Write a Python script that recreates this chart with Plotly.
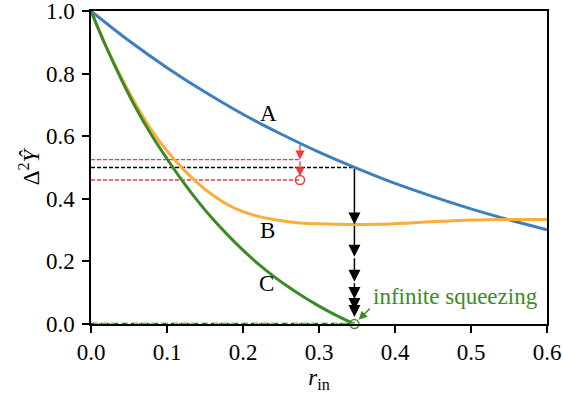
import plotly.graph_objects as go

# ---- data ----
r_A = [0.0, 0.05, 0.10, 0.15, 0.20, 0.25, 0.30, 0.35, 0.40, 0.45, 0.50, 0.55, 0.60]
y_A = [1.0, 0.905, 0.819, 0.741, 0.670, 0.607, 0.549, 0.497, 0.449, 0.407, 0.368, 0.333, 0.301]

r_B = [0.0, 0.02, 0.04, 0.06, 0.08, 0.10, 0.12, 0.14, 0.16, 0.18, 0.20, 0.22, 0.24,
       0.26, 0.28, 0.30, 0.34, 0.38, 0.42, 0.46, 0.50, 0.55, 0.60]
y_B = [1.0, 0.887, 0.787, 0.697, 0.618, 0.553, 0.498, 0.451, 0.412, 0.381, 0.359, 0.344, 0.334,
       0.327, 0.322, 0.320, 0.318, 0.319, 0.323, 0.328, 0.332, 0.334, 0.334]

r_C = [0.0, 0.02, 0.04, 0.06, 0.08, 0.10, 0.12, 0.14, 0.16, 0.18, 0.20, 0.22, 0.24,
       0.26, 0.28, 0.30, 0.32, 0.3466]
y_C = [1.0, 0.885, 0.781, 0.686, 0.602, 0.528, 0.458, 0.394, 0.336, 0.284, 0.236, 0.192, 0.153,
       0.118, 0.086, 0.057, 0.031, 0.0]

r_star = 0.3466          # where curve A reaches 0.5 / C reaches 0
level_black = 0.5
red_levels = [0.525, 0.460]
r_red = 0.275
red_arrow_y = [0.577, 0.525, 0.472]
black_arrow_y = [0.5, 0.318, 0.215, 0.135, 0.080, 0.045, 0.022, 0.008]

labels = ["A", "B", "C"]
label_r = [0.234, 0.232, 0.231]
label_y = [0.673, 0.300, 0.130]

x_ticks = [0, 0.1, 0.2, 0.3, 0.4, 0.5, 0.6]
x_ticktext = ["0.0", "0.1", "0.2", "0.3", "0.4", "0.5", "0.6"]
y_ticks = [0, 0.2, 0.4, 0.6, 0.8, 1.0]
y_ticktext = ["0.0", "0.2", "0.4", "0.6", "0.8", "1.0"]

c_blue = "#3d7fbf"
c_orange = "#fcac3a"
c_green = "#3a8b25"
c_red = "#ef3b3b"
FONT = "Liberation Serif, Times New Roman, serif"
FS = 23

fig = go.Figure()

# horizontal dashed guide lines
for lv in red_levels:
    fig.add_trace(go.Scatter(x=[0, r_red], y=[lv, lv], mode="lines",
                             line=dict(color=c_red, width=1.3, dash="4px,2px"),
                             showlegend=False, hoverinfo="skip"))
fig.add_trace(go.Scatter(x=[0, r_star], y=[level_black, level_black], mode="lines",
                         line=dict(color="black", width=1.3, dash="4px,2px"),
                         showlegend=False, hoverinfo="skip"))

# curves
fig.add_trace(go.Scatter(x=r_A, y=y_A, mode="lines", line=dict(color=c_blue, width=3, shape="spline"),
                         showlegend=False))
fig.add_trace(go.Scatter(x=r_B, y=y_B, mode="lines", line=dict(color=c_orange, width=3, shape="spline"),
                         showlegend=False))
fig.add_trace(go.Scatter(x=r_C, y=y_C, mode="lines", line=dict(color=c_green, width=3, shape="spline"),
                         showlegend=False))

# zero line (green dashed + black dashed)
fig.add_trace(go.Scatter(x=[0, r_star], y=[0, 0], mode="lines",
                         line=dict(color="#7fbf6a", width=3, dash="7px,3px"),
                         showlegend=False, hoverinfo="skip"))
fig.add_trace(go.Scatter(x=[0, r_star], y=[0, 0], mode="lines",
                         line=dict(color="black", width=1.2, dash="3px,5px"),
                         showlegend=False, hoverinfo="skip"))

# circles
fig.add_trace(go.Scatter(x=[r_red], y=[red_levels[1]], mode="markers",
                         marker=dict(symbol="circle-open", size=9, color=c_red, line=dict(width=1.5)),
                         cliponaxis=False, showlegend=False))
fig.add_trace(go.Scatter(x=[r_star], y=[0], mode="markers",
                         marker=dict(symbol="circle-open", size=9, color=c_green, line=dict(width=1.5)),
                         cliponaxis=False, showlegend=False))

annotations = []
# black vertical arrow chain
for y0, y1 in zip(black_arrow_y[:-1], black_arrow_y[1:]):
    annotations.append(dict(x=r_star, y=y1, ax=r_star, ay=y0, xref="x", yref="y",
                            axref="x", ayref="y", text="", showarrow=True,
                            arrowhead=2, arrowsize=1.6, arrowwidth=1.5, arrowcolor="black",
                            standoff=0, startstandoff=0))
# red arrow chain
for y0, y1 in zip(red_arrow_y[:-1], red_arrow_y[1:]):
    annotations.append(dict(x=r_red, y=y1, ax=r_red, ay=y0, xref="x", yref="y",
                            axref="x", ayref="y", text="", showarrow=True,
                            arrowhead=2, arrowsize=1.4, arrowwidth=1.3, arrowcolor=c_red,
                            standoff=0, startstandoff=0))
# curve labels
for t, xr, yr in zip(labels, label_r, label_y):
    annotations.append(dict(x=xr, y=yr, xref="x", yref="y", text=t, showarrow=False,
                            font=dict(family=FONT, size=FS, color="black")))
# infinite squeezing
annotations.append(dict(x=0.369, y=0.088, xref="x", yref="y", text="infinite squeezing",
                        xanchor="left", yanchor="middle", showarrow=False,
                        font=dict(family=FONT, size=FS, color=c_green)))
annotations.append(dict(x=r_star, y=0, xref="x", yref="y", ax=17, ay=-17, text="",
                        showarrow=True, arrowhead=2, arrowsize=1.3, arrowwidth=1.3,
                        arrowcolor=c_green, standoff=6))

axis_common = dict(showgrid=False, zeroline=False, showline=True, mirror=True, automargin=False,
                   linecolor="black", linewidth=1.5, ticks="outside", ticklen=7, tickwidth=1.5,
                   tickcolor="black", tickfont=dict(family=FONT, size=FS),
                   ticklabeloverflow="allow")

fig.update_layout(
    width=563, height=393,
    margin=dict(l=91, r=16, t=11, b=69, autoexpand=False),
    plot_bgcolor="white", paper_bgcolor="white",
    font=dict(family=FONT, size=FS, color="black"),
    annotations=annotations,
    xaxis=dict(range=[0, 0.6], tickvals=x_ticks, ticktext=x_ticktext,
               ticklabelstandoff=0,
               title=dict(text="<i>r</i><sub>in</sub>", standoff=2,
                          font=dict(family=FONT, size=FS)),
               **axis_common),
    yaxis=dict(range=[0, 1.0], tickvals=y_ticks, ticktext=y_ticktext,
               ticklabelstandoff=3,
               title=dict(text="Δ<sup>2</sup><i>Ŷ</i>", standoff=0,
                          font=dict(family=FONT, size=FS)),
               **axis_common),
)

fig.write_html("out.html", config={"displayModeBar": False},
               post_script="document.body.style.margin='0';")
